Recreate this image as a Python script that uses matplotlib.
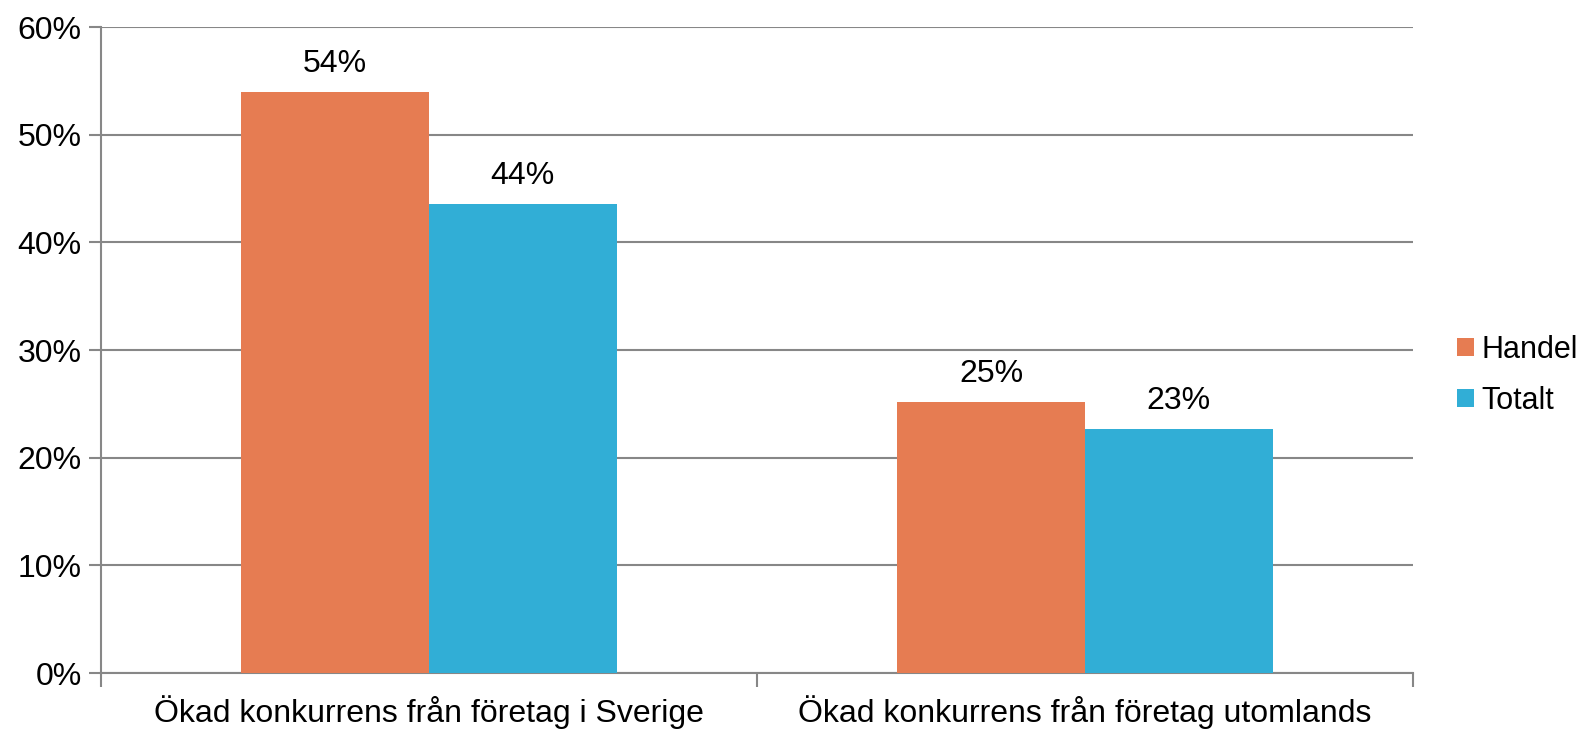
import numpy as np
import matplotlib
matplotlib.use("Agg")
import matplotlib.pyplot as plt
from matplotlib.ticker import PercentFormatter, FixedLocator

plt.rcParams['font.family'] = ['Liberation Sans', 'DejaVu Sans']

categories = ['Ökad konkurrens från företag i Sverige',
              'Ökad konkurrens från företag utomlands']
series = ['Handel', 'Totalt']
handel = [0.54, 0.252]
totalt = [0.436, 0.227]
labels_handel = ['54%', '25%']
labels_totalt = ['44%', '23%']

ORANGE = '#E67C52'
BLUE = '#31AED6'
GRID = '#878787'

fig = plt.figure(figsize=(15.85, 7.3), dpi=100)
ax = fig.add_axes([0.0637, 0.078, 0.8278, 0.885])

x = np.arange(len(categories))
w = 0.286
b1 = ax.bar(x - w / 2, handel, w, color=ORANGE, label=series[0], zorder=3)
b2 = ax.bar(x + w / 2, totalt, w, color=BLUE, label=series[1], zorder=3)

# value labels above bars
for bars, labs in ((b1, labels_handel), (b2, labels_totalt)):
    for rect, lab in zip(bars, labs):
        ax.annotate(lab, (rect.get_x() + rect.get_width() / 2, rect.get_height()),
                    xytext=(0, 9), textcoords='offset points',
                    ha='center', va='bottom', fontsize=23)

ax.set_xlim(-0.5, len(categories) - 0.5)
ax.set_ylim(0, 0.6)
ax.set_yticks(np.arange(0, 0.61, 0.1))
ax.yaxis.set_major_formatter(PercentFormatter(1.0, decimals=0))
ax.grid(axis='y', color=GRID, linewidth=1.5, zorder=0)

ax.set_xticks(x)
ax.set_xticklabels(categories, fontsize=23)
ax.xaxis.set_minor_locator(FixedLocator([-0.5, 0.5, 1.5]))
ax.tick_params(axis='x', which='major', length=0, pad=16)
ax.tick_params(axis='x', which='minor', length=10, width=1.5, color=GRID)
ax.tick_params(axis='y', length=9, width=1.5, color=GRID, labelsize=23, pad=5)

for s in ('top', 'right'):
    ax.spines[s].set_visible(False)
for s in ('left', 'bottom'):
    ax.spines[s].set_color(GRID)
    ax.spines[s].set_linewidth(1.5)

ax.legend(loc='center left', bbox_to_anchor=(1.0335, 0.461), frameon=False,
          borderpad=0, borderaxespad=0,
          fontsize=22, handlelength=0.55, handleheight=0.55, handletextpad=0.26,
          labelspacing=0.7)

fig.savefig('out.png', dpi=100)
